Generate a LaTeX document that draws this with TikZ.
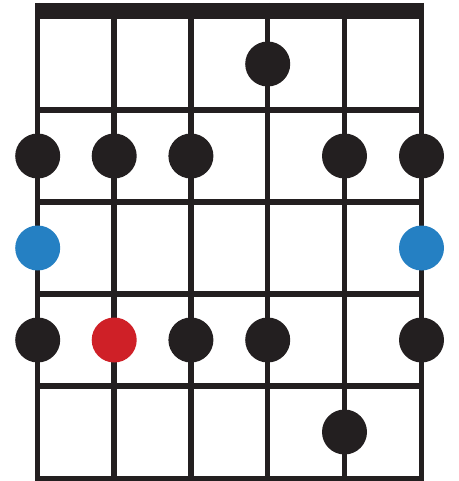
\documentclass[tikz,border=0pt]{standalone}
\definecolor{ink}{HTML}{231F20}
\definecolor{dotblue}{HTML}{2580C3}
\definecolor{dotred}{HTML}{CF2027}
\begin{document}
\begin{tikzpicture}[x=1pt,y=-1pt,
  wire/.style={draw=ink,line width=5.5pt},
  dot/.style={circle,fill=ink,minimum size=45pt,inner sep=0pt},
  bluedot/.style={dot,fill=dotblue},
  reddot/.style={dot,fill=dotred}]
\useasboundingbox (0,0) rectangle (458,481);
% nut
\fill[ink] (35,3) rectangle (424.3,19);
% strings
\foreach \x in {37.7,114.2,190.9,267.7,344.5,421.5}
  \draw[wire] (\x,3) -- (\x,481);
% frets
\foreach \y in {110,202,294,386,478.3}
  \draw[wire] (35,\y) -- (424.3,\y);
% dots
\node[dot] (r1s4) at (267.7,64) {};
\node[dot] (r2s1) at (37.7,156) {};
\node[dot] (r2s2) at (114.2,156) {};
\node[dot] (r2s3) at (190.9,156) {};
\node[dot] (r2s5) at (344.5,156) {};
\node[dot] (r2s6) at (421.5,156) {};
\node[bluedot] (r3s1) at (37.7,248) {};
\node[bluedot] (r3s6) at (421.5,248) {};
\node[dot] (r4s1) at (37.7,340) {};
\node[reddot] (r4s2) at (114.2,340) {};
\node[dot] (r4s3) at (190.9,340) {};
\node[dot] (r4s4) at (267.7,340) {};
\node[dot] (r4s6) at (421.5,340) {};
\node[dot] (r5s5) at (344.5,432) {};
\end{tikzpicture}
\end{document}
